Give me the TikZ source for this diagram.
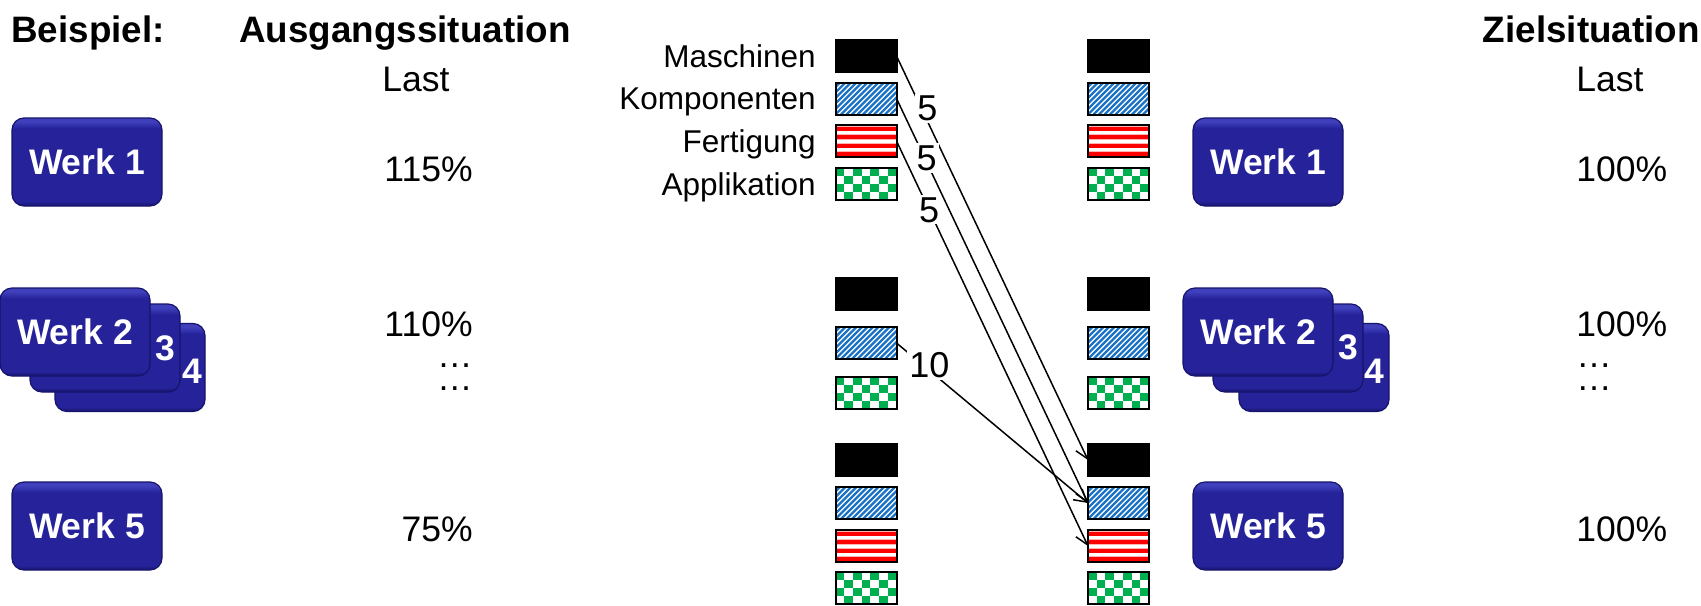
\documentclass[tikz,border=0pt]{standalone}
\usepackage{fontspec}
\setmainfont{Liberation Sans}
\usetikzlibrary{arrows.meta}
\definecolor{werktop}{HTML}{4040BC}
\definecolor{werkmid}{HTML}{25229A}
\definecolor{werkbot}{HTML}{17156C}
\definecolor{werkedge}{HTML}{16146A}
\definecolor{stripeblue}{HTML}{1A72C4}
\definecolor{stripered}{HTML}{FF0000}
\definecolor{checkgreen}{HTML}{00B050}
\pgfdeclareverticalshading{werkshade}{100bp}{color(0bp)=(werkbot); color(25bp)=(werkbot); color(27.5bp)=(werkmid); color(69bp)=(werkmid); color(73bp)=(werktop); color(100bp)=(werktop)}
\begin{document}
\begin{tikzpicture}[x=0.5pt,y=-0.5pt,
  werk/.style={rounded corners=6pt, shading=werkshade,
    draw=werkedge, line width=0.6pt, minimum width=75pt, minimum height=44pt, inner sep=0pt,
    text=white, font=\fontsize{17.75}{20}\selectfont\bfseries},
  werknum/.style={inner sep=0pt, text=white, font=\fontsize{17.75}{20}\selectfont\bfseries},
  heading/.style={inner sep=0pt, font=\fontsize{18.4}{20}\selectfont\bfseries},
  plain/.style={inner sep=0pt, font=\fontsize{17.75}{20}\selectfont},
  pct/.style={plain, text depth=0pt},
  dots/.style={plain, text height=2pt, text depth=0pt},
  legtext/.style={inner sep=0pt, anchor=base east, font=\fontsize{15.75}{18}\selectfont},
  cbox/.style={minimum width=30.5pt, minimum height=16pt, inner sep=0pt, draw=black, line width=1pt},
  blackbox/.style={cbox, fill=black},
  bluebox/.style={cbox, fill=white, path picture={
      \foreach \i in {-7,...,12}{
        \draw[stripeblue, line width=1.2pt] ([xshift=\i*2.75pt]path picture bounding box.south west) -- ++(18pt,18pt);
      }}},
  redbox/.style={cbox, fill=white, path picture={
      \foreach \i in {0,...,3}{
        \fill[stripered!30] ([yshift=-\i*4.25pt-0.3pt]path picture bounding box.north west) rectangle ++(31pt,-2.8pt);
        \fill[stripered] ([yshift=-\i*4.25pt-0.75pt]path picture bounding box.north west) rectangle ++(31pt,-2pt);
      }}},
  greenbox/.style={cbox, fill=white, path picture={
      \foreach \c in {0,...,6}{\foreach \r in {0,...,3}{
        \ifodd\numexpr\c+\r\relax\else
          \fill[checkgreen] ([xshift=\c*4.357pt, yshift=-\r*4pt]path picture bounding box.north west) rectangle ++(4.357pt,-4pt);
        \fi}}}},
  arrowline/.style={line width=0.75pt, -{Straight Barb[length=6pt,width=7pt]}},
  numlab/.style={fill=white, inner sep=1pt, font=\fontsize{18}{20}\selectfont}
]
\useasboundingbox (0,0) rectangle (1701,605);

% headings
\node[heading, anchor=base west] (hb) at (11,42) {Beispiel:};
\node[heading, anchor=base west] (ha) at (239,42) {Ausgangssituation};
\node[heading, anchor=base east] (hz) at (1700,42) {Zielsituation};
\node[plain, anchor=base west] (lastl) at (382,91) {Last};
\node[plain, anchor=base west] (lastr) at (1576,91) {Last};

% left Werk boxes
\node[werk] (w1l) at (87,162) {Werk 1};
\node[werk] (w4l) at (130,367.5) {};
\node[werk] (w3l) at (105,348) {};
\node[werk] (w2l) at (75,332) {Werk 2};
\node[werknum] (n3l) at (165,348) {3};
\node[werknum] (n4l) at (192,371) {4};
\node[werk] (w5l) at (87,526) {Werk 5};

% right Werk boxes
\node[werk] (w1r) at (1268,162) {Werk 1};
\node[werk] (w4r) at (1314,367.5) {};
\node[werk] (w3r) at (1288,348) {};
\node[werk] (w2r) at (1258,332) {Werk 2};
\node[werknum] (n3r) at (1348,347) {3};
\node[werknum] (n4r) at (1374,371) {4};
\node[werk] (w5r) at (1268,526) {Werk 5};

% loads
\node[pct, anchor=base east] (p1l) at (473,181) {115\%};
\node[pct, anchor=base east] (p2l) at (473,336) {110\%};
\node[dots, anchor=base east] (d1l) at (473,367) {…};
\node[dots, anchor=base east] (d2l) at (473,390) {…};
\node[pct, anchor=base east] (p5l) at (473,541) {75\%};
\node[pct, anchor=base west] (p1r) at (1576,181) {100\%};
\node[pct, anchor=base west] (p2r) at (1576,336) {100\%};
\node[dots, anchor=base west] (d1r) at (1576,367) {…};
\node[dots, anchor=base west] (d2r) at (1576,390) {…};
\node[pct, anchor=base west] (p5r) at (1576,541) {100\%};

% legend labels
\node[legtext] (lm) at (816,67) {Maschinen};
\node[legtext] (lk) at (816,109.5) {Komponenten};
\node[legtext] (lf) at (816,152) {Fertigung};
\node[legtext] (la) at (816,195) {Applikation};

% arrow end points (box edges)
\coordinate (a1e) at (896.5,56);
\coordinate (a2e) at (896.5,98.5);
\coordinate (a3e) at (896.5,141);
\coordinate (c2e) at (896.5,343);
\coordinate (f1w) at (1088,460);
\coordinate (f2w) at (1088,503);
\coordinate (f3w) at (1088,546);
\draw[arrowline] (a1e) -- node[numlab, pos=0.13, xshift=3pt] (l1) {5} (f1w);
\draw[arrowline] (a2e) -- node[numlab, pos=0.147, xshift=1pt] (l2) {5} (f2w);
\draw[arrowline] (a3e) -- node[numlab, pos=0.17] (l3) {5} (f3w);
\draw[arrowline] (c2e) -- node[numlab, pos=0.14, xshift=3pt] (l4) {10} (f2w);

% top group
\node[blackbox] (a1) at (866,56) {};
\node[bluebox]  (a2) at (866,98.5) {};
\node[redbox]   (a3) at (866,141) {};
\node[greenbox] (a4) at (866,184) {};
\node[blackbox] (b1) at (1118.5,56) {};
\node[bluebox]  (b2) at (1118.5,98.5) {};
\node[redbox]   (b3) at (1118.5,141) {};
\node[greenbox] (b4) at (1118.5,184) {};
% middle group
\node[blackbox] (c1) at (866,294) {};
\node[bluebox]  (c2) at (866,343) {};
\node[greenbox] (c4) at (866,392.5) {};
\node[blackbox] (d1) at (1118.5,294) {};
\node[bluebox]  (d2) at (1118.5,343) {};
\node[greenbox] (d4) at (1118.5,392.5) {};
% lower group
\node[blackbox] (e1) at (866,460) {};
\node[bluebox]  (e2) at (866,503) {};
\node[redbox]   (e3) at (866,546) {};
\node[greenbox] (e4) at (866,588) {};
\node[blackbox] (f1) at (1118.5,460) {};
\node[bluebox]  (f2) at (1118.5,503) {};
\node[redbox]   (f3) at (1118.5,546) {};
\node[greenbox] (f4) at (1118.5,588) {};
\end{tikzpicture}
\end{document}
